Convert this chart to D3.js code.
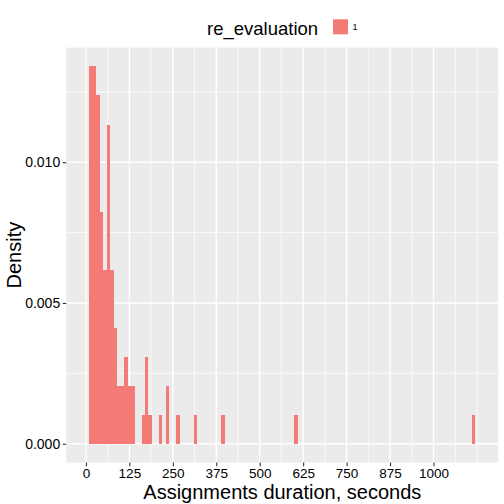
<!DOCTYPE html>
<html>
<head>
<meta charset="utf-8">
<script src="https://cdn.jsdelivr.net/npm/d3@7"></script>
<style>
  html, body { margin: 0; padding: 0; background: #ffffff; }
  svg { display: block; }
  text { font-family: "Liberation Sans", Arial, Helvetica, sans-serif; }
</style>
</head>
<body>
<svg id="chart" width="504" height="504"></svg>
<script>
// ---- data ----
const binWidth = 10;
const binStarts = [10, 20, 30, 40, 50, 60, 70, 80, 90, 100, 110, 120, 130, 160, 170, 180, 210, 230, 260, 310, 390, 600, 1110];
const binCounts = [13, 13, 12, 8, 6, 11, 6, 4, 2, 2, 3, 2, 2, 1, 3, 1, 1, 2, 1, 1, 1, 1, 1];
const dataRange = [0, 1130];
const xTicks = [0, 125, 250, 375, 500, 625, 750, 875, 1000];
const yTicks = [0, 0.005, 0.010];
const legendTitle = "re_evaluation";
const legendLabels = ["1"];
const xTitle = "Assignments duration, seconds";
const yTitle = "Density";

// ---- derived ----
const total = d3.sum(binCounts);
const bins = binStarts.map((s, i) => ({ x0: s, x1: s + binWidth, density: binCounts[i] / (total * binWidth) }));

const W = 504, H = 504;
const panel = { left: 66.3, right: 498.3, top: 47.6, bottom: 462.6 };
const fill = "#F47B75";

const svg = d3.select("#chart");
svg.append("rect").attr("width", W).attr("height", H).attr("fill", "#ffffff");

const xSpan = dataRange[1] - dataRange[0];
const x = d3.scaleLinear()
  .domain([dataRange[0] - 0.05 * xSpan, dataRange[1] + 0.05 * xSpan])
  .range([panel.left, panel.right]);
const yMax = d3.max(bins, d => d.density);
const y = d3.scaleLinear()
  .domain([-0.05 * yMax, yMax * 1.05])
  .range([panel.bottom, panel.top]);

// panel background
svg.append("rect")
  .attr("x", panel.left).attr("y", panel.top)
  .attr("width", panel.right - panel.left).attr("height", panel.bottom - panel.top)
  .attr("fill", "#EBEBEB");

// minor grid
const xStep = xTicks[1] - xTicks[0];
const xMinor = [];
for (let i = -1; i < xTicks.length; i++) {
  const v = xTicks[0] + (i + 0.5) * xStep;
  if (v > x.domain()[0] && v < x.domain()[1]) xMinor.push(v);
}
const xExtra = xTicks[xTicks.length - 1] + xStep;
if (xExtra < x.domain()[1]) xMinor.push(xExtra);
const yStep = yTicks[1] - yTicks[0];
const yMinor = [];
for (let i = -1; i < yTicks.length; i++) {
  const v = yTicks[0] + (i + 0.5) * yStep;
  if (v > y.domain()[0] && v < y.domain()[1]) yMinor.push(v);
}

const grid = svg.append("g");
grid.selectAll(".xminor").data(xMinor).enter().append("line")
  .attr("x1", d => x(d)).attr("x2", d => x(d))
  .attr("y1", panel.top).attr("y2", panel.bottom)
  .attr("stroke", "#ffffff").attr("stroke-width", 0.7);
grid.selectAll(".yminor").data(yMinor).enter().append("line")
  .attr("y1", d => y(d)).attr("y2", d => y(d))
  .attr("x1", panel.left).attr("x2", panel.right)
  .attr("stroke", "#ffffff").attr("stroke-width", 0.7);
grid.selectAll(".xmajor").data(xTicks).enter().append("line")
  .attr("x1", d => x(d)).attr("x2", d => x(d))
  .attr("y1", panel.top).attr("y2", panel.bottom)
  .attr("stroke", "#ffffff").attr("stroke-width", 1.4);
grid.selectAll(".ymajor").data(yTicks).enter().append("line")
  .attr("y1", d => y(d)).attr("y2", d => y(d))
  .attr("x1", panel.left).attr("x2", panel.right)
  .attr("stroke", "#ffffff").attr("stroke-width", 1.4);

// bars
svg.append("g").attr("shape-rendering", "crispEdges")
  .selectAll("rect").data(bins).enter().append("rect")
  .attr("x", d => x(d.x0))
  .attr("width", d => x(d.x1) - x(d.x0))
  .attr("y", d => y(d.density))
  .attr("height", d => y(0) - y(d.density))
  .attr("fill", fill);

// axes
const xAxis = d3.axisBottom(x).tickValues(xTicks).tickSize(3.6).tickPadding(2).tickFormat(d3.format("d"));
const gx = svg.append("g").attr("transform", `translate(0,${panel.bottom})`).call(xAxis);
gx.select(".domain").remove();
gx.selectAll(".tick line").attr("stroke", "#333333").attr("stroke-width", 1.1);
gx.selectAll(".tick text").attr("fill", "#000000").attr("font-size", 13.5)
  .attr("font-family", "Liberation Sans, Arial, sans-serif");

const yAxis = d3.axisLeft(y).tickValues(yTicks).tickSize(3.6).tickPadding(2.5).tickFormat(d3.format(".3f"));
const gy = svg.append("g").attr("transform", `translate(${panel.left},0)`).call(yAxis);
gy.select(".domain").remove();
gy.selectAll(".tick line").attr("stroke", "#333333").attr("stroke-width", 1.1);
gy.selectAll(".tick text").attr("fill", "#000000").attr("font-size", 14)
  .attr("font-family", "Liberation Sans, Arial, sans-serif");

// axis titles
svg.append("text")
  .attr("x", (panel.left + panel.right) / 2).attr("y", 498.5)
  .attr("text-anchor", "middle").attr("font-size", 20).attr("fill", "#000000")
  .text(xTitle);
svg.append("text")
  .attr("transform", `translate(21,${(panel.top + panel.bottom) / 2}) rotate(-90)`)
  .attr("text-anchor", "middle").attr("font-size", 20).attr("fill", "#000000")
  .text(yTitle);

// legend
const lg = svg.append("g");
lg.append("text").attr("x", 207).attr("y", 35)
  .attr("font-size", 18.5).attr("fill", "#000000").text(legendTitle);
const keyX = 333, keyY = 19.3, keySize = 15;
lg.selectAll(".key").data(legendLabels).enter().append("rect")
  .attr("x", keyX).attr("y", keyY).attr("width", keySize).attr("height", keySize)
  .attr("fill", fill);
lg.selectAll(".klab").data(legendLabels).enter().append("text")
  .attr("x", keyX + keySize + 4.5).attr("y", keyY + keySize / 2 + 3.2)
  .attr("font-size", 9).attr("fill", "#000000").text(d => d);
</script>
</body>
</html>
